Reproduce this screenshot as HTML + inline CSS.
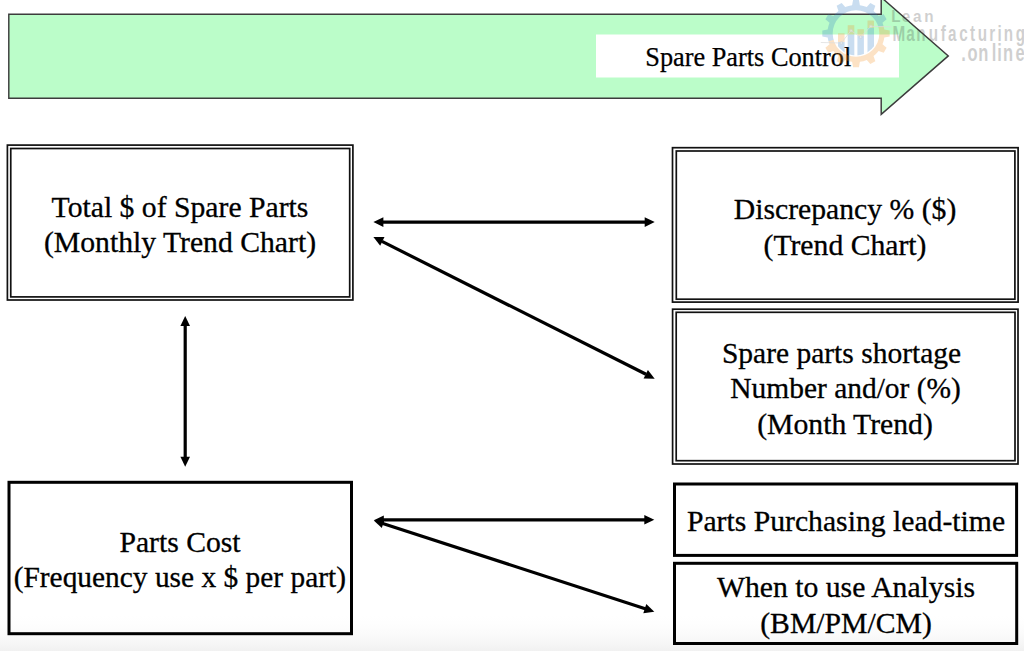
<!DOCTYPE html>
<html><head><meta charset="utf-8">
<style>
html,body{margin:0;padding:0;background:#fff;}
body{width:1024px;height:651px;overflow:hidden;position:relative;}
svg{position:absolute;left:0;top:0;}
.t{font-family:"Liberation Serif",serif;font-size:29.7px;fill:#000;stroke:#000;stroke-width:0.3px;}
.wm{font-family:"Liberation Mono",monospace;font-size:16.7px;fill:#c8c8c8;}
</style></head><body>
<svg width="1024" height="651" viewBox="0 0 1024 651">
<defs>
<linearGradient id="bg" x1="0" y1="0" x2="0" y2="1">
<stop offset="0" stop-color="#fff" stop-opacity="0"/>
<stop offset="1" stop-color="#f1f1f1" stop-opacity="1"/>
</linearGradient>
</defs>
<rect x="0" y="612" width="1024" height="39" fill="url(#bg)"/>
<!-- big arrow -->
<path d="M8.8 14.2 H881.2 V-2.7 L948.3 55.9 L881.2 114.3 V98.2 H8.8 Z" fill="#bbfdc9" stroke="#3c3c3c" stroke-width="1.45" stroke-linejoin="miter"/>
<rect x="596" y="34.5" width="303" height="43" fill="#fff"/>
<text x="645.3" y="66.2" style="font-family:'Liberation Serif',serif;font-size:26.3px;stroke:#000;stroke-width:0.25px">Spare Parts Control</text>

<!-- boxes -->
<rect x="7.4" y="145.1" width="345.50" height="154.90" fill="none" stroke="#111" stroke-width="1.7"/>
<rect x="10.75" y="148.5" width="338.95" height="148.40" fill="none" stroke="#111" stroke-width="1.7"/>
<rect x="672.5" y="147.7" width="345.60" height="154.40" fill="none" stroke="#111" stroke-width="1.7"/>
<rect x="676.3" y="151.0" width="338.60" height="148.20" fill="none" stroke="#111" stroke-width="1.7"/>
<rect x="672.6" y="309.2" width="345.40" height="154.80" fill="none" stroke="#111" stroke-width="1.7"/>
<rect x="676.2" y="312.3" width="338.80" height="148.40" fill="none" stroke="#111" stroke-width="1.7"/>
<rect x="9.0" y="482.3" width="342.50" height="151.40" fill="none" stroke="#000" stroke-width="3"/>
<rect x="674.5" y="484.0" width="342.10" height="71.40" fill="none" stroke="#000" stroke-width="3"/>
<rect x="674.5" y="563.3" width="342.20" height="80.20" fill="none" stroke="#000" stroke-width="3"/>

<!-- arrows -->
<g stroke="#000" stroke-width="3.2" fill="none">
<line x1="382" y1="222.1" x2="646" y2="222.1"/>
<line x1="382" y1="241.4" x2="646" y2="374.3"/>
<line x1="185.2" y1="324" x2="185.2" y2="459"/>
<line x1="382" y1="519.8" x2="646" y2="519.8"/>
<line x1="382" y1="523.2" x2="646" y2="608.9"/>
</g>
<g fill="#000"><polygon points="373.4,222.1 383.4,217.3 383.4,226.9"/><polygon points="654.7,222.1 644.7,226.9 644.7,217.3"/><polygon points="373.4,236.9 384.5,237.1 380.2,245.7"/><polygon points="654.7,378.7 643.6,378.5 647.9,369.9"/><polygon points="185.2,316.0 190.0,326.0 180.4,326.0"/><polygon points="185.2,466.7 180.4,456.7 190.0,456.7"/><polygon points="373.8,520.2 383.8,515.4 383.8,525.0"/><polygon points="654.3,519.8 644.3,524.6 644.3,515.0"/><polygon points="373.8,520.4 384.8,518.9 381.8,528.1"/><polygon points="654.3,611.7 643.3,613.2 646.3,604.0"/></g>

<!-- texts -->
<text class="t" x="180" y="216.8" text-anchor="middle">Total $ of Spare Parts</text>
<text class="t" x="180" y="251.8" text-anchor="middle">(Monthly Trend Chart)</text>
<text class="t" x="845" y="218.7" text-anchor="middle">Discrepancy % ($)</text>
<text class="t" x="845" y="254.5" text-anchor="middle">(Trend Chart)</text>
<text class="t" x="841.5" y="362.8" text-anchor="middle" textLength="239.2" lengthAdjust="spacingAndGlyphs">Spare parts shortage</text>
<text class="t" x="845.6" y="397.8" text-anchor="middle" textLength="230.6" lengthAdjust="spacingAndGlyphs">Number and/or (%)</text>
<text class="t" x="845" y="433.8" text-anchor="middle">(Month Trend)</text>
<text class="t" x="180" y="552.2" text-anchor="middle">Parts Cost</text>
<text class="t" x="179.8" y="586.9" text-anchor="middle" textLength="332.3" lengthAdjust="spacingAndGlyphs">(Frequency use x $ per part)</text>
<text class="t" x="846" y="531.1" text-anchor="middle">Parts Purchasing lead-time</text>
<text class="t" x="846" y="596.8" text-anchor="middle">When to use Analysis</text>
<text class="t" x="846" y="632.7" text-anchor="middle">(BM/PM/CM)</text>

<!-- watermark -->
<defs>
<clipPath id="cb"><path d="M779.1 55.6L932.9 11.4L932.9 -60L779.1 -60Z"/></clipPath>
<clipPath id="co"><path d="M779.1 55.6L932.9 11.4L932.9 130L779.1 130Z"/></clipPath>
<clipPath id="ci"><circle cx="856.0" cy="33.5" r="22.0"/></clipPath>
</defs>
<g fill-opacity="0.26">
<path d="M852.10 5.17L853.10 -0.18L858.90 -0.18L859.90 5.17A28.6 28.6 0 0 1 866.79 7.01L870.33 2.89L875.35 5.79L873.54 10.91A28.6 28.6 0 0 1 878.59 15.96L883.71 14.15L886.61 19.17L882.49 22.71A28.6 28.6 0 0 1 884.33 29.60L889.68 30.60L889.68 36.40L884.33 37.40A28.6 28.6 0 0 1 882.49 44.29L886.61 47.83L883.71 52.85L878.59 51.04A28.6 28.6 0 0 1 873.54 56.09L875.35 61.21L870.33 64.11L866.79 59.99A28.6 28.6 0 0 1 859.90 61.83L858.90 67.18L853.10 67.18L852.10 61.83A28.6 28.6 0 0 1 845.21 59.99L841.67 64.11L836.65 61.21L838.46 56.09A28.6 28.6 0 0 1 833.41 51.04L828.29 52.85L825.39 47.83L829.51 44.29A28.6 28.6 0 0 1 827.67 37.40L822.32 36.40L822.32 30.60L827.67 29.60A28.6 28.6 0 0 1 829.51 22.71L825.39 19.17L828.29 14.15L833.41 15.96A28.6 28.6 0 0 1 838.46 10.91L836.65 5.79L841.67 2.89L845.21 7.01A28.6 28.6 0 0 1 852.10 5.17ZM879.30 33.50A23.3 23.3 0 1 0 832.70 33.50A23.3 23.3 0 1 0 879.30 33.50Z" fill="#2f7bc6" fill-rule="evenodd" clip-path="url(#cb)"/>
<path d="M852.10 5.17L853.10 -0.18L858.90 -0.18L859.90 5.17A28.6 28.6 0 0 1 866.79 7.01L870.33 2.89L875.35 5.79L873.54 10.91A28.6 28.6 0 0 1 878.59 15.96L883.71 14.15L886.61 19.17L882.49 22.71A28.6 28.6 0 0 1 884.33 29.60L889.68 30.60L889.68 36.40L884.33 37.40A28.6 28.6 0 0 1 882.49 44.29L886.61 47.83L883.71 52.85L878.59 51.04A28.6 28.6 0 0 1 873.54 56.09L875.35 61.21L870.33 64.11L866.79 59.99A28.6 28.6 0 0 1 859.90 61.83L858.90 67.18L853.10 67.18L852.10 61.83A28.6 28.6 0 0 1 845.21 59.99L841.67 64.11L836.65 61.21L838.46 56.09A28.6 28.6 0 0 1 833.41 51.04L828.29 52.85L825.39 47.83L829.51 44.29A28.6 28.6 0 0 1 827.67 37.40L822.32 36.40L822.32 30.60L827.67 29.60A28.6 28.6 0 0 1 829.51 22.71L825.39 19.17L828.29 14.15L833.41 15.96A28.6 28.6 0 0 1 838.46 10.91L836.65 5.79L841.67 2.89L845.21 7.01A28.6 28.6 0 0 1 852.10 5.17ZM879.30 33.50A23.3 23.3 0 1 0 832.70 33.50A23.3 23.3 0 1 0 879.30 33.50Z" fill="#f5901f" fill-rule="evenodd" clip-path="url(#co)"/>
<g clip-path="url(#ci)">
<rect x="838.0" y="33.3" width="6.6" height="8.7" fill="#f5901f"/>
<rect x="838.0" y="42.0" width="6.6" height="28.0" fill="#2f7bc6"/>
<rect x="847.7" y="25.2" width="6.6" height="9.3" fill="#f5901f"/>
<rect x="847.7" y="34.5" width="6.6" height="35.5" fill="#2f7bc6"/>
<rect x="857.4" y="29.2" width="6.5" height="6.6" fill="#f5901f"/>
<rect x="857.4" y="35.8" width="6.5" height="34.2" fill="#2f7bc6"/>
<rect x="867.5" y="20.5" width="6.5" height="7.5" fill="#f5901f"/>
<rect x="867.5" y="28.0" width="6.5" height="42.0" fill="#2f7bc6"/>
</g></g>
<polyline points="820.8,42.5 841.3,43.0 851.0,30.6 860.6,37.1 870.8,26.3 891.3,26.9" fill="none" stroke="#dcdcdc" stroke-opacity="0.75" stroke-width="1"/>
<circle cx="841.3" cy="43.0" r="1.4" fill="#fff" fill-opacity="0.3" stroke="#cfcfcf" stroke-opacity="0.7" stroke-width="0.8"/>
<circle cx="851.0" cy="30.6" r="1.4" fill="#fff" fill-opacity="0.3" stroke="#cfcfcf" stroke-opacity="0.7" stroke-width="0.8"/>
<circle cx="860.6" cy="37.1" r="1.4" fill="#fff" fill-opacity="0.3" stroke="#cfcfcf" stroke-opacity="0.7" stroke-width="0.8"/>
<circle cx="870.8" cy="26.3" r="1.4" fill="#fff" fill-opacity="0.3" stroke="#cfcfcf" stroke-opacity="0.7" stroke-width="0.8"/>
<g opacity="0.24">
<text transform="scale(0.92,1)" x="973.91 984.78 997.07 1009.78" y="21.9" text-anchor="middle" style="font-family:'Liberation Sans',sans-serif;font-size:16.6px;font-weight:bold" fill="#3c3c3c">Lean</text>
<text transform="scale(0.7,1)" x="1284.14 1300.71 1315.71 1333.43 1347.57 1360.43 1376.57 1389.29 1403.29 1417.57 1428.14 1440.71 1457.86" y="40.6" text-anchor="middle" style="font-family:'Liberation Sans',sans-serif;font-size:21.8px;font-weight:bold" fill="#3c3c3c">Manufacturing</text>
<text transform="scale(0.7,1)" x="1376.57 1389.43 1404.71 1420.00 1427.86 1440.00 1457.43" y="61.5" text-anchor="middle" style="font-family:'Liberation Sans',sans-serif;font-size:23.6px;font-weight:bold" fill="#3c3c3c">.online</text>
</g>
</svg>
</body></html>
